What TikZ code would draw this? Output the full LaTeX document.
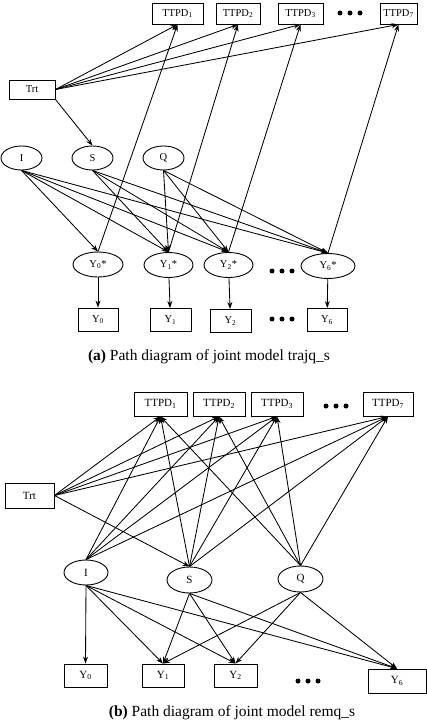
\documentclass[tikz,border=0pt]{standalone}
\usepackage{fontspec}
\setmainfont{Liberation Serif}
\usetikzlibrary{shapes.geometric,arrows.meta}
\begin{document}
\begin{tikzpicture}[x=1pt,y=-1pt,
  box/.style={draw,rectangle,line width=0.9pt,inner sep=0pt,minimum height=#1},
  box/.default=21pt,
  ell/.style={draw,ellipse,line width=0.9pt,inner sep=0pt},
  fa/.style={font=\fontsize{10.5}{12}\selectfont},
  fb/.style={font=\fontsize{11}{13}\selectfont},
  arr/.style={-{Stealth[length=7pt,width=5pt]},line width=0.85pt},
  captext/.style={font=\fontsize{15.5}{18}\selectfont}]
\useasboundingbox (0,0) rectangle (427,722);
% ---------------- (a) ----------------
\node[box,fa,minimum width=51pt] (T1a) at (177.5,13.5) {TTPD\textsubscript{1}};
\node[box,fa,minimum width=44pt] (T2a) at (238,13.5) {TTPD\textsubscript{2}};
\node[box,fa,minimum width=45pt] (T3a) at (300.5,13.5) {TTPD\textsubscript{3}};
\node[box,fa,minimum width=37pt] (T7a) at (398.5,13.5) {TTPD\textsubscript{7}};
\foreach \x in {340,350,360} \fill (\x,13) circle (2.5pt);
\node[box=19pt,fa,minimum width=46pt] (Trta) at (32,89.5) {Trt};
\node[ell,fa,minimum width=41pt,minimum height=24pt] (Ia) at (21.5,158) {I};
\node[ell,fa,minimum width=41pt,minimum height=24pt] (Sa) at (92.5,158) {S};
\node[ell,fa,minimum width=41pt,minimum height=24pt] (Qa) at (163.5,158) {Q};
\node[ell,fa,minimum width=50pt,minimum height=25pt] (Y0s) at (98,264.5) {Y\textsubscript{0}*};
\node[ell,fa,minimum width=49pt,minimum height=25pt] (Y1s) at (168.5,265) {Y\textsubscript{1}*};
\node[ell,fa,minimum width=49pt,minimum height=25pt] (Y2s) at (228.5,265) {Y\textsubscript{2}*};
\node[ell,fa,minimum width=54pt,minimum height=25pt] (Y6s) at (328,266) {Y\textsubscript{6}*};
\foreach \x in {272,282,292} \fill (\x,271) circle (2.5pt);
\node[box=23pt,fa,minimum width=40pt] (Y0a) at (98,319.5) {Y\textsubscript{0}};
\node[box=23pt,fa,minimum width=41pt] (Y1a) at (170.5,320) {Y\textsubscript{1}};
\node[box=23pt,fa,minimum width=41pt] (Y2a) at (230.5,321) {Y\textsubscript{2}};
\node[box=23pt,fa,minimum width=40pt] (Y6a) at (327,320) {Y\textsubscript{6}};
\foreach \x in {272,282,292} \fill (\x,319) circle (2.5pt);
% edges (a)
\foreach \t in {T1a,T2a,T3a,T7a} \draw[arr] (Trta.east) -- (\t.south);
\draw[arr] (Trta.south east) -- (Sa.north);
\foreach \t in {Y0s,Y1s,Y2s,Y6s} \draw[arr] (Ia.south) -- (\t.north);
\foreach \t in {Y1s,Y2s,Y6s} \draw[arr] (Sa.south) -- (\t.north);
\foreach \t in {Y1s,Y2s,Y6s} \draw[arr] (Qa.south) -- (\t.north);
\draw[arr] (Y0s.north) -- (T1a.south);
\draw[arr] (Y1s.north) -- (T2a.south);
\draw[arr] (Y2s.north) -- (T3a.south);
\draw[arr] (Y6s.north) -- (T7a.south);
\draw[arr] (Y0s) -- (Y0a);
\draw[arr] (Y1s) -- (Y1a);
\draw[arr] (Y2s) -- (Y2a);
\draw[arr] (Y6s) -- (Y6a);
\node[captext] (capa) at (209,357) {\textbf{(a)} Path diagram of joint model trajq\_s};
% ---------------- (b) ----------------
\node[box=24pt,fb,minimum width=53pt] (T1b) at (160.5,404) {TTPD\textsubscript{1}};
\node[box=24pt,fb,minimum width=52pt] (T2b) at (219,404) {TTPD\textsubscript{2}};
\node[box=24pt,fb,minimum width=52pt] (T3b) at (277,404) {TTPD\textsubscript{3}};
\node[box=24pt,fb,minimum width=50pt] (T7b) at (388,404) {TTPD\textsubscript{7}};
\foreach \x in {326,336,346} \fill (\x,406) circle (2.5pt);
\node[box=25pt,fb,minimum width=49pt] (Trtb) at (29.5,495.5) {Trt};
\node[ell,fb,minimum width=44pt,minimum height=25pt] (Ib) at (86,572.5) {I};
\node[ell,fb,minimum width=45pt,minimum height=26pt] (Sb) at (189.5,580) {S};
\node[ell,fb,minimum width=45pt,minimum height=26pt] (Qb) at (300.5,579) {Q};
\node[box=23pt,fb,minimum width=43pt] (Y0b) at (85.5,675.5) {Y\textsubscript{0}};
\node[box=23pt,fb,minimum width=42pt] (Y1b) at (163,675.5) {Y\textsubscript{1}};
\node[box=23pt,fb,minimum width=43pt] (Y2b) at (235.5,675.5) {Y\textsubscript{2}};
\node[box=24pt,fb,minimum width=58pt] (Y6b) at (397,681) {Y\textsubscript{6}};
\foreach \x in {298,308,318} \fill (\x,681) circle (2.5pt);
% edges (b)
\foreach \s in {Trtb.east,Ib.north,Sb.north,Qb.north}
  \foreach \t in {T1b,T2b,T3b,T7b} \draw[arr] (\s) -- (\t.south);
\draw[arr] (Trtb.east) -- (Sb.north);
\foreach \t in {Y0b,Y1b,Y2b,Y6b} \draw[arr] (Ib.south) -- (\t.north);
\foreach \t in {Y1b,Y2b,Y6b} \draw[arr] (Sb.south) -- (\t.north);
\foreach \t in {Y1b,Y2b,Y6b} \draw[arr] (Qb.south) -- (\t.north);
\node[captext] (capb) at (232,713) {\textbf{(b)} Path diagram of joint model remq\_s};
\end{tikzpicture}
\end{document}
